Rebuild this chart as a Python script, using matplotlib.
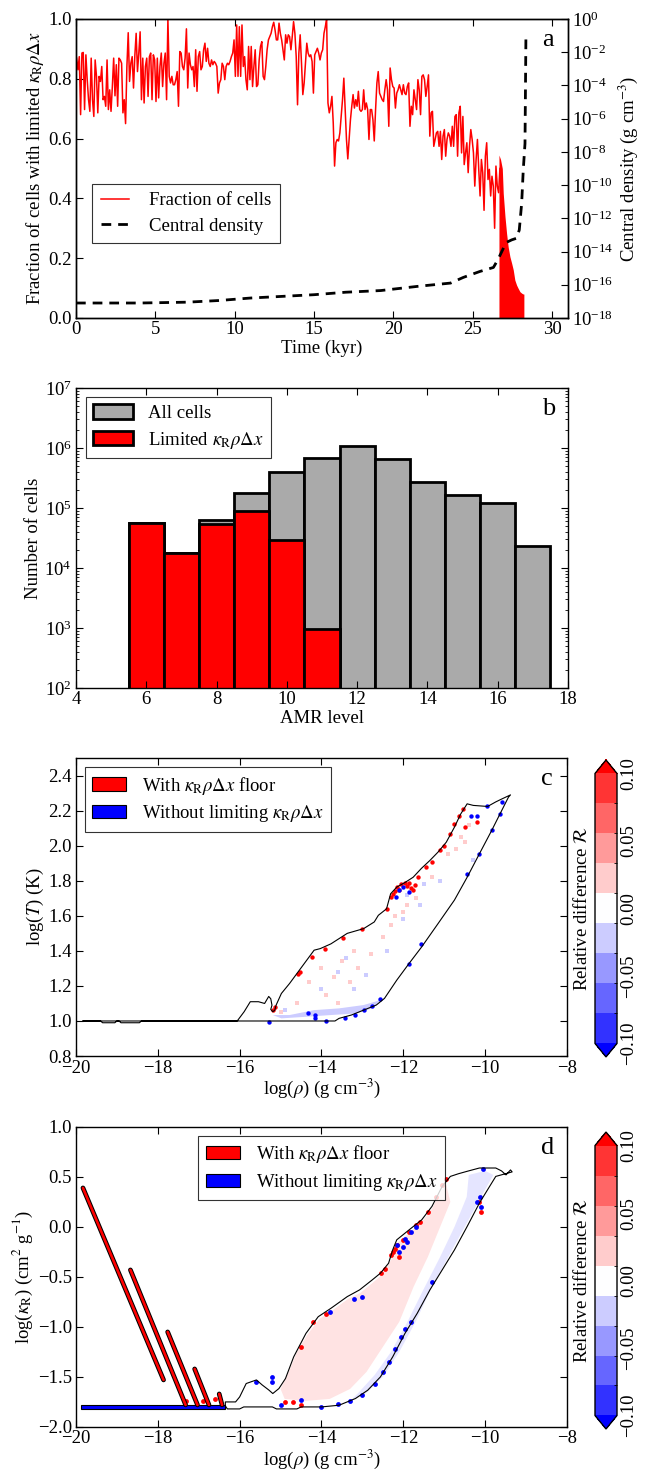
import numpy as np
import matplotlib.pyplot as plt
from matplotlib.colors import BoundaryNorm
from matplotlib.cm import ScalarMappable
from matplotlib.patches import Patch
from matplotlib.lines import Line2D
from matplotlib.ticker import NullLocator

plt.rcParams['font.family'] = ['Liberation Serif', 'DejaVu Serif']
plt.rcParams['mathtext.fontset'] = 'stix'
plt.rcParams['font.size'] = 13.5
plt.rcParams['xtick.direction'] = 'in'
plt.rcParams['ytick.direction'] = 'in'
plt.rcParams['xtick.top'] = True
plt.rcParams['ytick.right'] = True
plt.rcParams['xtick.major.size'] = 5
plt.rcParams['ytick.major.size'] = 5
plt.rcParams['xtick.minor.size'] = 2.5
plt.rcParams['ytick.minor.size'] = 2.5
plt.rcParams['xtick.major.pad'] = 2.5
plt.rcParams['ytick.major.pad'] = 3
plt.rcParams['axes.linewidth'] = 1.0

# ---------------- panel a data ----------------
# fraction of cells with limited kappa*rho*dx, snapshots evenly spaced in time
t_first, t_last = 0.04, 26.71
frac = [
    0.869, 0.830, 0.874, 0.680, 0.886, 0.888, 0.697, 0.880, 0.797, 0.730,
    0.691, 0.869, 0.730, 0.674, 0.863, 0.808, 0.686, 0.808, 0.791, 0.841,
    0.730, 0.741, 0.708, 0.863, 0.697, 0.763, 0.691, 0.774, 0.869, 0.743,
    0.847, 0.708, 0.869, 0.863, 0.852, 0.686, 0.730, 0.650, 0.841, 0.954,
    0.791, 0.852, 0.874, 0.769, 0.877, 0.952, 0.824, 0.886, 0.957, 0.730,
    0.869, 0.719, 0.841, 0.869, 0.741, 0.874, 0.886, 0.730, 0.880, 0.863,
    0.724, 0.869, 0.736, 0.841, 0.886, 0.774, 0.852, 0.886, 0.730, 1.000,
    0.808, 0.786, 0.808, 0.780, 0.780, 0.797, 0.824, 0.708, 0.891, 0.886,
    0.841, 0.830, 0.869, 0.967, 0.769, 0.886, 0.847, 0.830, 0.841, 0.774,
    0.897, 0.758, 0.874, 0.891, 0.830, 0.841, 0.897, 0.919, 0.858, 0.902,
    0.852, 0.841, 0.863, 0.847, 0.858, 0.852, 0.841, 0.752, 0.786, 0.797,
    0.852, 0.841, 0.797, 0.841, 0.852, 0.847, 0.858, 0.874, 0.886, 0.930,
    0.808, 0.980, 0.808, 0.974, 0.808, 0.980, 0.841, 0.874, 0.797, 0.763,
    0.908, 0.797, 0.908, 0.774, 0.841, 0.897, 0.774, 0.780, 0.863, 0.908,
    0.924, 0.808, 0.797, 0.841, 0.897, 0.930, 0.941, 0.952, 0.974, 0.989,
    0.963, 0.930, 0.930, 0.986, 0.952, 0.930, 0.897, 0.863, 0.947, 0.919,
    0.947, 0.941, 0.897, 0.941, 0.991, 0.952, 0.874, 0.713, 0.886, 0.947,
    0.852, 0.747, 0.786, 0.852, 0.919, 0.886, 0.874, 0.880, 0.858, 0.752,
    0.880, 0.891, 0.902, 0.886, 0.863,
    0.886, 0.897, 0.952, 0.974, 1.000, 0.719, 0.686, 0.708, 0.741, 0.652,
    0.508, 0.586, 0.597, 0.592, 0.619, 0.674, 0.730, 0.802, 0.697, 0.597,
    0.532, 0.597, 0.663, 0.708, 0.747, 0.702, 0.730, 0.708, 0.758, 0.697,
    0.691, 0.697, 0.763, 0.697, 0.719, 0.697, 0.597, 0.697, 0.697, 0.663,
    0.592, 0.697, 0.786, 0.824, 0.752, 0.741, 0.730, 0.724, 0.763, 0.797,
    0.763, 0.641, 0.836, 0.797, 0.774, 0.769, 0.702, 0.752, 0.763, 0.780,
    0.763, 0.747, 0.780, 0.752, 0.747, 0.774, 0.786, 0.641, 0.708, 0.680,
    0.763, 0.730, 0.697, 0.797, 0.763, 0.680, 0.808, 0.813, 0.797, 0.741,
    0.774, 0.813, 0.608, 0.686, 0.691, 0.574, 0.597, 0.619, 0.624, 0.574,
    0.624, 0.530, 0.608, 0.630, 0.541, 0.597, 0.619, 0.608, 0.574, 0.641,
    0.574, 0.674, 0.680, 0.541, 0.686, 0.708, 0.552, 0.674, 0.513, 0.552,
    0.586, 0.486, 0.574, 0.630, 0.597, 0.552, 0.441, 0.530, 0.597, 0.497,
    0.408, 0.530, 0.486, 0.360, 0.541, 0.586, 0.463, 0.497, 0.408, 0.474,
    0.441, 0.300, 0.508, 0.441, 0.419, 0.500,
]
time = np.linspace(t_first, t_last, len(frac))

# final collapse: very fast oscillations, drawn by their upper envelope
t_dense = [26.65, 26.75, 26.86, 26.92, 27.03, 27.13, 27.23, 27.34, 27.45,
           27.55, 27.65, 27.76, 27.86, 27.97, 28.08, 28.18, 28.22]
frac_dense = [0.545, 0.53, 0.50, 0.417, 0.339, 0.283, 0.238, 0.205, 0.183,
              0.161, 0.127, 0.110, 0.099, 0.088, 0.083, 0.080, 0.080]

t_rho = [0, 4, 7, 9, 11, 13, 15, 17, 19.2, 21.5, 23.6, 24.4, 25.45, 26.3,
         26.6, 26.9, 27.1, 27.45, 27.76, 27.93, 28.08, 28.18, 28.29, 28.35]
log_rho_c = [-17.1, -17.1, -17.05, -16.95, -16.8, -16.7, -16.6, -16.45,
             -16.35, -16.1, -15.9, -15.56, -15.2, -14.96, -14.46, -13.86,
             -13.46, -13.3, -13.2, -12.7, -11.1, -9.1, -7.5, -0.86]

# ---------------- panel b data ----------------
amr_levels = [6, 7, 8, 9, 10, 11, 12, 13, 14, 15, 16, 17]
all_cells = [5.6e4, 1.8e4, 6.2e4, 1.79e5, 3.99e5, 6.68e5, 1.06e6, 6.43e5,
             2.71e5, 1.66e5, 1.20e5, 2.34e4]
limited_cells = [5.56e4, 1.79e4, 5.35e4, 8.96e4, 2.92e4, 9.6e2, 0, 0, 0, 0, 0, 0]

# ---------------- panel c data (log rho, log T) ----------------
c_out_x = [-19.83, -19.4, -19.35, -19.05, -19.0, -18.95, -18.9, -18.45, -18.4,
           -16.06, -15.89, -15.74, -15.54, -15.39, -15.29, -15.24, -15.21,
           -15.24, -15.19, -15.14, -15.11, -14.98, -14.78, -14.48, -14.18,
           -14.03, -13.77, -13.37, -12.97, -12.71, -12.61, -12.41, -12.31,
           -12.16, -11.96, -11.76, -11.56, -11.35, -11.15, -10.95, -10.75,
           -10.6, -10.44, -10.29, -9.94, -9.74, -9.59, -9.38, -9.43, -9.64,
           -9.84, -10.14, -10.44, -10.75, -11.15, -11.55, -11.86, -12.16,
           -12.46, -12.66, -12.97, -13.27, -13.57, -13.67, -16.06, -19.83]
c_out_y = [1.0, 1.0, 0.99, 0.99, 1.0, 1.0, 0.99, 0.99, 1.0,
           1.0, 1.053, 1.11, 1.11, 1.10, 1.14, 1.127, 1.09,
           1.066, 1.053, 1.062, 1.09, 1.157, 1.214, 1.309, 1.404,
           1.413, 1.44, 1.50, 1.527, 1.565, 1.603, 1.64, 1.726,
           1.764, 1.79, 1.82, 1.87, 1.916, 1.964, 2.02, 2.106,
           2.18, 2.239, 2.23, 2.224, 2.25, 2.267, 2.29, 2.277, 2.18,
           2.087, 1.954, 1.82, 1.69, 1.556, 1.423, 1.328, 1.233,
           1.129, 1.091, 1.062, 1.034, 1.015, 1.0, 1.0, 1.0]
c_red_x = [-15.18, -15.13, -14.58, -14.52, -14.23, -13.92, -13.47, -13.02,
           -12.41, -12.31, -12.26, -12.16, -12.06, -11.96, -11.86, -11.81,
           -11.76, -11.71, -11.65, -11.45, -11.3, -11.1, -11.0, -10.85,
           -10.75, -10.65, -10.54, -10.49, -10.2, -12.2, -12.1, -11.9]
c_red_y = [1.062, 1.08, 1.27, 1.28, 1.366, 1.413, 1.476, 1.527,
           1.64, 1.707, 1.726, 1.764, 1.783, 1.79, 1.786, 1.76,
           1.745, 1.774, 1.82, 1.878, 1.905, 1.973, 2.0, 2.068,
           2.125, 2.172, 2.21, 2.106, 2.134, 1.74, 1.75, 1.77]
c_blue_x = [-15.29, -14.32, -14.17, -14.15, -13.88, -13.42, -13.17, -12.96,
            -12.76, -12.56, -11.86, -11.56, -10.44, -10.14, -9.84, -9.64,
            -10.34, -10.19, -9.96, -9.6, -12.11, -12.01, -11.86, -12.19]
c_blue_y = [0.996, 1.043, 1.034, 1.015, 1.0, 1.015, 1.034, 1.06,
            1.088, 1.125, 1.328, 1.442, 1.84, 1.954, 2.087, 2.18,
            2.172, 2.172, 2.229, 2.25, 1.745, 1.765, 1.736, 1.707]
c_pink_x = [-14.3, -14.0, -13.7, -13.5, -13.3, -13.1, -12.8, -12.5, -12.3,
            -13.9, -13.6, -12.0, -11.7, -11.3, -10.9, -10.6, -10.4, -14.6,
            -15.0, -13.2, -10.5, -10.7, -11.9, -12.2]
c_pink_y = [1.22, 1.30, 1.25, 1.34, 1.22, 1.30, 1.38, 1.48, 1.55,
            1.15, 1.10, 1.62, 1.70, 1.82, 1.95, 2.05, 2.12, 1.10,
            1.05, 1.40, 2.02, 1.98, 1.66, 1.60]
c_lblue_x = [-14.0, -13.6, -13.2, -12.9, -12.4, -12.0, -11.6, -11.1, -10.3,
             -14.9, -13.4, -11.9, -11.5]
c_lblue_y = [1.18, 1.28, 1.18, 1.26, 1.40, 1.58, 1.66, 1.80, 1.92,
             1.06, 1.36, 1.72, 1.78]
c_band_x = [-15.19, -14.78, -14.18, -13.57, -12.97, -12.56, -12.76, -13.17,
            -13.77, -14.38, -14.98]
c_band_y = [1.034, 1.034, 1.062, 1.072, 1.091, 1.119, 1.072, 1.043,
            1.034, 1.024, 1.015]

# ---------------- panel d data (log rho, log kappa_R) ----------------
d_out_x = [-16.35, -16.35, -16.1, -16.0, -15.84, -15.59, -15.45, -15.29,
           -15.19, -15.04, -14.88, -14.68, -14.38, -14.08, -13.77, -13.37,
           -13.07, -12.76, -12.56, -12.36, -12.26, -12.16, -11.86, -11.55,
           -11.3, -11.05, -10.85, -10.65, -10.44, -10.14, -9.74, -9.6, -9.49,
           -9.38, -9.34, -9.74, -9.94, -10.14, -10.44, -10.75, -11.05, -11.35,
           -11.66, -11.96, -12.26, -12.56, -12.87, -13.17, -13.57, -14.0,
           -14.5, -14.6, -15.1, -15.2, -15.9, -16.0, -16.3, -16.35]
d_out_y = [-1.79, -1.75, -1.75, -1.70, -1.566, -1.53, -1.58, -1.63,
           -1.666, -1.616, -1.516, -1.30, -1.065, -0.898, -0.814, -0.697,
           -0.63, -0.53, -0.463, -0.363, -0.23, -0.129, -0.03, 0.071,
           0.205, 0.405, 0.505, 0.532, 0.556, 0.589, 0.589, 0.56, 0.52,
           0.57, 0.55, 0.505, 0.372, 0.238, 0.004, -0.23, -0.43, -0.63,
           -0.864, -1.065, -1.30, -1.50, -1.633, -1.716, -1.783, -1.80,
           -1.80, -1.82, -1.82, -1.80, -1.80, -1.82, -1.82, -1.79]
d_band_x = [-19.87, -16.35, -16.35, -19.87]
d_band_y = [-1.78, -1.78, -1.82, -1.82]
streak_x0 = [-19.83, -18.67, -17.76, -17.10, -16.50]
streak_y0 = [0.39, -0.43, -1.05, -1.42, -1.67]
streak_x1 = [-17.86, -17.32, -17.03, -16.75, -16.43]
streak_y1 = [-1.53, -1.78, -1.78, -1.78, -1.78]
d_pink_x = [-15.0, -14.8, -14.6, -14.35, -14.05, -13.75, -13.35, -13.05,
            -12.75, -12.5, -12.3, -12.15, -11.85, -11.55, -11.3, -11.1,
            -10.95, -10.85, -11.1, -11.4, -11.75, -12.1, -12.5, -12.9, -13.3,
            -13.8, -14.4, -14.9]
d_pink_y = [-1.62, -1.45, -1.25, -1.08, -0.92, -0.84, -0.72, -0.66,
            -0.56, -0.47, -0.33, -0.16, -0.06, 0.05, 0.18, 0.35,
            0.42, 0.25, 0.0, -0.3, -0.6, -0.95, -1.2, -1.45, -1.62,
            -1.72, -1.74, -1.72]
d_lblue_x = [-10.4, -10.0, -9.8, -10.1, -10.5, -10.9, -11.3, -11.7, -12.1,
             -12.5, -12.9, -13.3, -13.1, -12.7, -12.3, -11.9, -11.5, -11.1,
             -10.75, -10.45]
d_lblue_y = [0.52, 0.56, 0.52, 0.3, 0.0, -0.3, -0.6, -0.95, -1.25,
             -1.5, -1.66, -1.74, -1.66, -1.48, -1.25, -0.95, -0.62, -0.3,
             0.0, 0.3]
d_red_x = [-14.5, -14.2, -13.9, -12.55, -12.45, -12.3, -12.2, -12.25, -12.0,
           -11.85, -11.7, -11.6, -11.4, -11.2, -11.05, -10.95, -10.15, -10.1,
           -14.9, -14.7, -14.5, -16.9, -16.6, -17.3, -12.15, -12.1]
d_red_y = [-1.2, -0.95, -0.87, -0.46, -0.42, -0.28, -0.22, -0.25, -0.13,
           -0.05, 0.02, 0.05, 0.15, 0.3, 0.42, 0.48, 0.25, 0.15,
           -1.75, -1.75, -1.78, -1.74, -1.72, -1.74, -0.18, -0.3]
d_blue_x = [-13.6, -13.3, -13.0, -12.7, -12.5, -12.35, -12.2, -12.05, -11.95,
            -11.8, -11.3, -10.2, -10.12, -10.1, -12.0, -11.9, -11.8, -11.7,
            -12.1, -13.0, -13.2, -13.8, -15.2, -15.22, -15.0, -14.0, -14.5,
            -15.6, -12.15, -11.95, -10.05]
d_blue_y = [-1.77, -1.74, -1.68, -1.57, -1.45, -1.35, -1.22, -1.1, -1.02,
            -0.95, -0.55, 0.25, 0.3, 0.2, -0.2, -0.15, -0.05, 0.0,
            -0.25, -0.7, -0.72, -0.85, -1.5, -1.55, -1.78, -1.80, -1.73,
            -1.55, -0.18, -0.12, 0.58]

levels = [-0.1, -0.0778, -0.0556, -0.0333, -0.0111, 0.0111, 0.0333, 0.0556,
          0.0778, 0.1]

# ---------------- figure ----------------
fig = plt.figure(figsize=(6.49, 14.70), dpi=100)
ax_a = fig.add_axes([0.1171, 0.7837, 0.7581, 0.2034])
ax_b = fig.add_axes([0.1171, 0.5320, 0.7581, 0.2041])
ax_c = fig.add_axes([0.1171, 0.2816, 0.7565, 0.2027])
ax_d = fig.add_axes([0.1171, 0.0293, 0.7565, 0.2041])
cax_c = fig.add_axes([0.9168, 0.2810, 0.0339, 0.2020])
cax_d = fig.add_axes([0.9168, 0.0279, 0.0339, 0.2020])

# panel a
ax_a.plot(time, frac, color='red', lw=1.1)
ax_a.fill_between(t_dense, 0, frac_dense, color='red', lw=0)
ax_a.set_xlim(0, 31)
ax_a.set_ylim(0, 1)
ax_a.set_xlabel('Time (kyr)', labelpad=1)
ax_a.set_ylabel(r'Fraction of cells with limited $\kappa_{\rm R}\rho\Delta x$',
                labelpad=2)
ax_a.tick_params(right=False)
ax2 = ax_a.twinx()
ax2.semilogy(t_rho, 10.0 ** np.array(log_rho_c), color='k', lw=2,
             dashes=(3.5, 2.5))
ax2.set_ylim(1e-18, 1)
ax2.set_yticks([10.0 ** k for k in range(-18, 1, 2)])
ax2.yaxis.set_minor_locator(NullLocator())
ax2.tick_params(direction='in')
ax2.set_ylabel(r'Central density (g cm$^{-3}$)', labelpad=2)
ax2.text(0.96, 0.93, 'a', transform=ax2.transAxes, fontsize=19,
         ha='center', va='center')
hl = [Line2D([], [], color='red', lw=1.1),
      Line2D([], [], color='k', lw=2, dashes=(3.5, 2.5))]
leg = ax2.legend(hl, ['Fraction of cells', 'Central density'],
                 loc='lower left', bbox_to_anchor=(0.033, 0.25),
                 borderaxespad=0, fancybox=False, edgecolor='k',
                 handlelength=1.5, handletextpad=1.1, borderpad=0.45,
                 labelspacing=0.45)
leg.get_frame().set_linewidth(0.8)

# panel b
ax_b.set_yscale('log')
ax_b.bar(amr_levels, all_cells, width=1.0, color='#aaaaaa', edgecolor='k',
         lw=2, label='All cells')
ax_b.bar(amr_levels, limited_cells, width=1.0, color='red', edgecolor='k',
         lw=2, label=r'Limited $\kappa_{\rm R}\rho\Delta x$')
ax_b.set_xlim(4, 18)
ax_b.set_ylim(1e2, 1e7)
ax_b.set_xticks(range(4, 19, 2))
ax_b.set_xlabel('AMR level', labelpad=1)
ax_b.set_ylabel('Number of cells', labelpad=2)
ax_b.tick_params(which='both', direction='in')
ax_b.text(0.96, 0.93, 'b', transform=ax_b.transAxes, fontsize=19,
          ha='center', va='center')
leg = ax_b.legend(loc='upper left', fancybox=False, edgecolor='k',
                  handlelength=2.1, handleheight=0.8, handletextpad=0.8,
                  borderpad=0.4, labelspacing=0.4, borderaxespad=0,
                  bbox_to_anchor=(0.02, 0.97))
leg.get_frame().set_linewidth(0.8)

cmap = plt.get_cmap('bwr')
norm = BoundaryNorm(levels, ncolors=cmap.N, extend='both')
sm = ScalarMappable(norm=norm, cmap=cmap)
pink = sm.to_rgba(0.02)
lblue = sm.to_rgba(-0.02)

leg_handles = [Patch(facecolor='red', edgecolor='k', lw=0.8),
               Patch(facecolor='blue', edgecolor='k', lw=0.8)]
leg_labels = [r'With $\kappa_{\rm R}\rho\Delta x$ floor',
              r'Without limiting $\kappa_{\rm R}\rho\Delta x$']


def finish_colorbar(cax):
    cb = fig.colorbar(sm, cax=cax, extend='both',
                      ticks=[-0.1, -0.05, 0.0, 0.05, 0.1])
    cb.ax.yaxis.set_label_position('left')
    cb.set_label(r'Relative difference $\mathcal{R}$', labelpad=3)
    for lbl in cb.ax.get_yticklabels():
        lbl.set_rotation(90)
        lbl.set_va('center')
    cb.ax.tick_params(length=0, pad=2)
    return cb


# panel c
ax_c.fill(c_band_x, c_band_y, color=lblue, lw=0)
ax_c.scatter(c_pink_x, c_pink_y, s=5, marker='s', color=pink, lw=0)
ax_c.scatter(c_lblue_x, c_lblue_y, s=5, marker='s', color=lblue, lw=0)
ax_c.plot(c_out_x, c_out_y, color='k', lw=0.8)
ax_c.scatter(c_red_x, c_red_y, s=10, color='red', lw=0)
ax_c.scatter(c_blue_x, c_blue_y, s=10, color='blue', lw=0)
ax_c.set_xlim(-20, -8)
ax_c.set_ylim(0.8, 2.5)
ax_c.set_yticks(np.arange(0.8, 2.41, 0.2))
ax_c.set_xlabel(r'log($\rho$) (g cm$^{-3}$)', labelpad=0)
ax_c.set_ylabel(r'log($T$) (K)', labelpad=2)
ax_c.text(0.96, 0.93, 'c', transform=ax_c.transAxes, fontsize=19,
          ha='center', va='center')
leg = ax_c.legend(leg_handles, leg_labels, loc='upper left', fancybox=False,
                  edgecolor='k', handlelength=1.8, handleheight=0.7,
                  handletextpad=0.85, borderpad=0.4, labelspacing=0.35,
                  borderaxespad=0, bbox_to_anchor=(0.018, 0.97))
leg.get_frame().set_linewidth(0.8)
finish_colorbar(cax_c)

# panel d
ax_d.fill(d_pink_x, d_pink_y, color=pink, alpha=0.55, lw=0)
ax_d.fill(d_lblue_x, d_lblue_y, color=lblue, alpha=0.5, lw=0)
ax_d.plot(d_out_x, d_out_y, color='k', lw=0.8)
ax_d.fill(d_band_x, d_band_y, facecolor='blue', edgecolor='k', lw=0.8)
for x0, y0, x1, y1 in zip(streak_x0, streak_y0, streak_x1, streak_y1):
    ax_d.plot([x0, x1], [y0, y1], color='k', lw=3.4, solid_capstyle='round')
    ax_d.plot([x0, x1], [y0, y1], color='red', lw=1.9, solid_capstyle='round')
ax_d.scatter(d_red_x, d_red_y, s=12, color='red', lw=0)
ax_d.scatter(d_blue_x, d_blue_y, s=12, color='blue', lw=0)
ax_d.set_xlim(-20, -8)
ax_d.set_ylim(-2, 1)
ax_d.set_yticks(np.arange(-2, 1.01, 0.5))
ax_d.set_xlabel(r'log($\rho$) (g cm$^{-3}$)', labelpad=0)
ax_d.set_ylabel(r'log($\kappa_{\rm R}$) (cm$^2$ g$^{-1}$)', labelpad=2)
ax_d.text(0.96, 0.93, 'd', transform=ax_d.transAxes, fontsize=19,
          ha='center', va='center')
leg = ax_d.legend(leg_handles, leg_labels, loc='upper center', fancybox=False,
                  edgecolor='k', handlelength=1.8, handleheight=0.7,
                  handletextpad=0.85, borderpad=0.4, labelspacing=0.35,
                  borderaxespad=0, bbox_to_anchor=(0.5, 0.97))
leg.get_frame().set_linewidth(0.8)
finish_colorbar(cax_d)

fig.savefig('out.png', dpi=100)
